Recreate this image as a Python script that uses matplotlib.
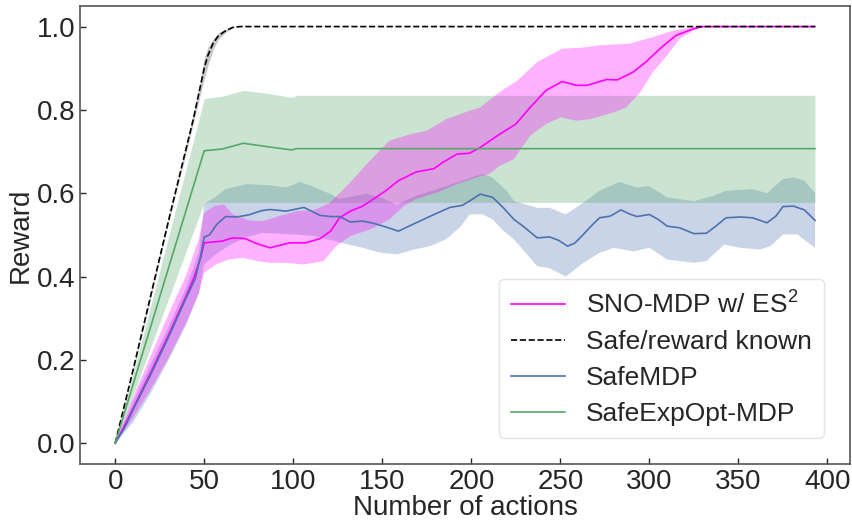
import matplotlib
matplotlib.use("Agg")
import matplotlib.pyplot as plt

# Safe/reward known (black dashed)
known_x = [0, 10, 20, 30, 40, 44, 48, 50, 52, 55, 58, 62, 66, 70, 393]
known_y = [0, 0.175, 0.355, 0.535, 0.71, 0.78, 0.86, 0.9, 0.93, 0.96, 0.978, 0.99, 0.998, 1.0, 1.0]
known_lo = [0, 0.17, 0.35, 0.53, 0.70, 0.77, 0.84, 0.875, 0.905, 0.945, 0.97, 0.986, 0.997, 1.0, 1.0]
known_hi = [0, 0.18, 0.36, 0.54, 0.72, 0.79, 0.875, 0.925, 0.95, 0.97, 0.985, 0.994, 0.999, 1.0, 1.0]

# SafeExpOpt-MDP (green)
green_x = [0, 50, 60, 72, 85, 99, 102, 393]
green_y = [0, 0.702, 0.706, 0.72, 0.712, 0.704, 0.707, 0.707]
green_hi = [0, 0.827, 0.833, 0.847, 0.84, 0.83, 0.835, 0.835]
green_lo = [0, 0.578, 0.578, 0.578, 0.578, 0.578, 0.578, 0.578]

# SafeMDP (blue)
blue_x = [0, 5, 10, 20, 30, 40, 45, 48, 50, 53, 57, 62, 68, 75, 82, 87, 96, 106,
          115, 121, 126, 132, 139, 145, 152, 159, 167, 177, 188, 195, 200, 205,
          212, 218, 224, 229, 237, 244, 249, 254, 258, 262, 267, 272, 278, 284,
          289, 293, 300, 305, 310, 317, 325, 332, 337, 343, 351, 358, 366, 371,
          375, 381, 387, 393]
blue_y = [0, 0.035, 0.08, 0.165, 0.255, 0.35, 0.395, 0.45, 0.495, 0.50, 0.525, 0.544,
          0.543, 0.548, 0.558, 0.561, 0.557, 0.566, 0.547, 0.544, 0.544, 0.531,
          0.533, 0.528, 0.519, 0.509, 0.525, 0.545, 0.566, 0.571, 0.584, 0.598,
          0.59, 0.565, 0.537, 0.521, 0.493, 0.495, 0.487, 0.473, 0.48, 0.497,
          0.52, 0.541, 0.545, 0.56, 0.55, 0.544, 0.549, 0.537, 0.521, 0.517,
          0.503, 0.504, 0.52, 0.541, 0.543, 0.541, 0.529, 0.545, 0.568, 0.569,
          0.56, 0.535]
blue_hi_x = [0, 10, 20, 30, 40, 47, 50, 56, 62, 74, 87, 96, 104, 111, 121, 126, 133,
             141, 149, 158, 169, 181, 192, 203, 207, 212, 220, 224, 237, 244, 253,
             263, 272, 283, 293, 300, 310, 325, 336, 343, 358, 366, 375, 381, 387, 393]
blue_hi = [0, 0.10, 0.19, 0.28, 0.375, 0.46, 0.575, 0.59, 0.61, 0.622, 0.619, 0.614,
           0.627, 0.616, 0.598, 0.586, 0.592, 0.599, 0.59, 0.573, 0.594, 0.61, 0.626,
           0.642, 0.646, 0.637, 0.605, 0.581, 0.565, 0.565, 0.549, 0.578, 0.606,
           0.627, 0.614, 0.617, 0.59, 0.581, 0.594, 0.606, 0.61, 0.60, 0.634, 0.638,
           0.63, 0.60]
blue_lo_x = [0, 10, 20, 30, 40, 47, 50, 57, 65, 74, 83, 92, 102, 112, 120, 130, 139,
             148, 158, 168, 177, 186, 194, 199, 206, 212, 218, 224, 237, 244, 253,
             263, 272, 280, 291, 300, 310, 325, 332, 342, 351, 362, 368, 375, 383, 393]
blue_lo = [0, 0.05, 0.12, 0.2, 0.285, 0.36, 0.43, 0.455, 0.477, 0.495, 0.505, 0.503,
           0.501, 0.497, 0.489, 0.478, 0.469, 0.458, 0.453, 0.465, 0.473, 0.49, 0.52,
           0.549, 0.55, 0.537, 0.51, 0.489, 0.425, 0.42, 0.40, 0.433, 0.457, 0.469,
           0.46, 0.469, 0.441, 0.433, 0.437, 0.477, 0.469, 0.465, 0.473, 0.501,
           0.501, 0.469]

# SNO-MDP w/ ES^2 (magenta)
mag_x = [0, 5, 10, 20, 30, 40, 44, 48, 50, 55, 60, 66, 73, 79, 87, 98, 107, 115,
         121, 126, 132, 139, 145, 152, 159, 169, 179, 184, 192, 199, 205, 216, 225,
         233, 242, 251, 259, 265, 276, 282, 291, 298, 307, 315, 325, 330, 393]
mag_y = [0, 0.04, 0.083, 0.17, 0.26, 0.355, 0.395, 0.445, 0.481, 0.483, 0.485, 0.493,
         0.491, 0.48, 0.469, 0.481, 0.481, 0.491, 0.509, 0.541, 0.557, 0.569, 0.586,
         0.606, 0.63, 0.651, 0.659, 0.674, 0.694, 0.696, 0.71, 0.742, 0.766, 0.806,
         0.847, 0.868, 0.859, 0.859, 0.873, 0.872, 0.891, 0.915, 0.951, 0.979, 0.995,
         1.0, 1.0]
mag_hi_x = [0, 10, 20, 30, 40, 47, 50, 56, 61, 66, 75, 83, 92, 102, 112, 120, 126,
            132, 143, 154, 166, 175, 186, 199, 205, 216, 226, 237, 251, 261, 272,
            289, 302, 314, 327, 393]
mag_hi = [0, 0.11, 0.21, 0.31, 0.405, 0.49, 0.553, 0.57, 0.573, 0.55, 0.535, 0.533,
          0.545, 0.557, 0.56, 0.575, 0.60, 0.626, 0.678, 0.726, 0.742, 0.75, 0.778,
          0.798, 0.806, 0.843, 0.871, 0.915, 0.947, 0.949, 0.955, 0.959, 0.975,
          0.991, 1.0, 1.0]
mag_lo_x = [0, 10, 20, 30, 40, 47, 50, 57, 64, 72, 80, 87, 96, 106, 117, 124, 132,
            143, 154, 162, 169, 181, 192, 203, 210, 216, 224, 233, 242, 250, 259,
            267, 280, 287, 295, 302, 310, 317, 325, 330, 393]
mag_lo = [0, 0.06, 0.13, 0.205, 0.29, 0.36, 0.409, 0.43, 0.441, 0.445, 0.437, 0.433,
          0.433, 0.429, 0.437, 0.473, 0.497, 0.513, 0.537, 0.569, 0.586, 0.602,
          0.622, 0.638, 0.646, 0.666, 0.682, 0.738, 0.766, 0.782, 0.774, 0.778,
          0.794, 0.806, 0.843, 0.891, 0.931, 0.971, 0.991, 1.0, 1.0]

plt.rcParams['font.family'] = ['Liberation Sans', 'DejaVu Sans']
plt.rcParams['mathtext.fontset'] = 'custom'
plt.rcParams['mathtext.rm'] = 'Liberation Sans'
plt.rcParams['mathtext.default'] = 'regular'

BLUE = '#4c72b0'
GREEN = '#55a868'
MAG = '#ff00ff'

fig = plt.figure(figsize=(8.53, 5.22), dpi=100)
ax = fig.add_axes([0.094, 0.111, 0.9025, 0.878])

# band edges have their own x samples, so the blue and magenta bands are polygons
ax.fill_between(known_x, known_lo, known_hi, color='grey', alpha=0.45, lw=0)
ax.fill(blue_hi_x + blue_lo_x[::-1], blue_hi + blue_lo[::-1], color=BLUE, alpha=0.3, lw=0)
ax.fill_between(green_x, green_lo, green_hi, color=GREEN, alpha=0.3, lw=0)
ax.fill(mag_hi_x + mag_lo_x[::-1], mag_hi + mag_lo[::-1], color=MAG, alpha=0.3, lw=0)

ax.plot(mag_x, mag_y, color=MAG, lw=1.2, label=r'SNO-MDP w/ ES$^2$')
ax.plot(known_x, known_y, color='black', lw=1.2, ls='--', label='Safe/reward known')
ax.plot(blue_x, blue_y, color=BLUE, lw=1.2, label='SafeMDP')
ax.plot(green_x, green_y, color=GREEN, lw=1.2, label='SafeExpOpt-MDP')

ax.set_xlim(-19.65, 412.65)
ax.set_ylim(-0.05, 1.05)
ax.set_xticks([0, 50, 100, 150, 200, 250, 300, 350, 400])
ax.set_yticks([0.0, 0.2, 0.4, 0.6, 0.8, 1.0])
ax.tick_params(direction='in', length=4, width=1, labelsize=20, colors='#262626')
ax.set_xlabel('Number of actions', fontsize=20, color='#262626', labelpad=0)
ax.set_ylabel('Reward', fontsize=20, color='#262626', labelpad=2)
for s in ax.spines.values():
    s.set_color('#555555')
    s.set_linewidth(1.2)

leg = ax.legend(loc='lower right', fontsize=19, frameon=True, fancybox=True,
                handlelength=2.05, handletextpad=0.8, borderaxespad=1.0,
                labelspacing=0.45, borderpad=0.45)
leg.get_frame().set_edgecolor('#dddddd')
for t in leg.get_texts():
    t.set_color('#262626')

fig.savefig('out.png', dpi=100)
